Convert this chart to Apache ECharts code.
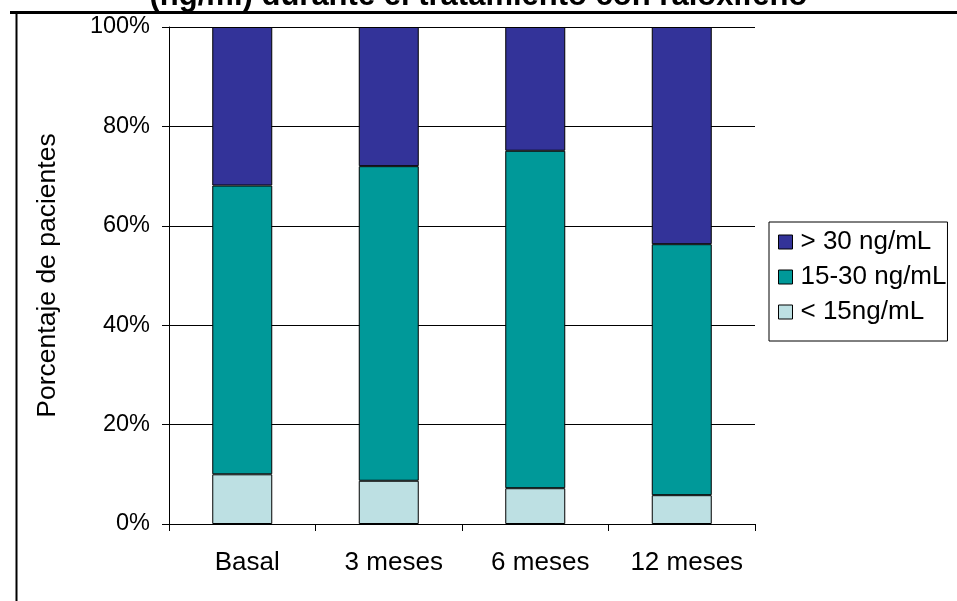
<!DOCTYPE html>
<html>
<head>
<meta charset="utf-8">
<script src="https://cdn.jsdelivr.net/npm/echarts@6/dist/echarts.min.js"></script>
<style>
html,body{margin:0;padding:0;background:#fff;}
#chart{width:957px;height:601px;}
</style>
</head>
<body>
<div id="chart"></div>
<script>
var categories = ['Basal', '3 meses', '6 meses', '12 meses'];
var seriesNames = ['< 15ng/mL', '15-30 ng/mL', '> 30 ng/mL'];
var lowValues = [10, 8.7, 7.2, 5.8];
var midValues = [58.1, 63.3, 67.9, 50.5];
var highValues = [31.9, 28.0, 24.9, 43.7];
var yTicks = [0, 20, 40, 60, 80, 100];
var titleText = '(ng/ml) durante el tratamiento con raloxifeno';
var yAxisName = 'Porcentaje de pacientes';

var FONT = '"Liberation Sans", Arial, sans-serif';
var colors = ['#BDE0E3', '#009999', '#333399'];

var chart = echarts.init(document.getElementById('chart'), null, {renderer: 'canvas'});

function bar(name, data, color) {
  return {
    name: name,
    type: 'bar',
    stack: 'total',
    data: data,
    barWidth: 60,
    itemStyle: {color: color, borderColor: '#000', borderWidth: 1},
    emphasis: {disabled: true}
  };
}

chart.setOption({
  animation: false,
  backgroundColor: '#fff',
  textStyle: {fontFamily: FONT},
  grid: {left: 169, right: 202, top: 27, bottom: 77, containLabel: false},
  xAxis: {
    type: 'category',
    data: categories,
    boundaryGap: true,
    axisLine: {show: true, lineStyle: {color: '#000', width: 1}},
    axisTick: {show: true, length: 7, interval: 0, lineStyle: {color: '#000'}},
    axisLabel: {fontSize: 26, color: '#000', fontFamily: FONT, margin: 26, interval: 0,
                hideOverlap: false, padding: [0, 0, 0, 10]}
  },
  yAxis: {
    type: 'value',
    min: yTicks[0],
    max: yTicks[yTicks.length - 1],
    interval: 20,
    name: yAxisName,
    nameLocation: 'middle',
    nameGap: 108,
    nameRotate: 90,
    nameTextStyle: {fontSize: 26.5, color: '#000', fontFamily: FONT},
    axisLine: {show: true, lineStyle: {color: '#000', width: 1}},
    axisTick: {show: true, length: 7, lineStyle: {color: '#000'}},
    axisLabel: {fontSize: 23.5, color: '#000', fontFamily: FONT, margin: 19, padding: [4, 0, 0, 0],
                formatter: '{value}%'},
    splitLine: {show: true, lineStyle: {color: '#000', width: 1}}
  },
  legend: {
    orient: 'vertical',
    left: 769,
    top: 222,
    data: [seriesNames[2], seriesNames[1], seriesNames[0]],
    icon: 'rect',
    itemWidth: 14,
    itemHeight: 14,
    itemGap: 9,
    itemStyle: {borderColor: '#000', borderWidth: 1},
    textStyle: {fontSize: 26, lineHeight: 26, color: '#000', fontFamily: FONT, padding: [0, 0, 0, 3]},
    padding: [7, 1, 16, 9],
    borderColor: '#000',
    borderWidth: 1,
    selectedMode: false
  },
  graphic: [
    {type: 'text', left: 'center', top: -19, z: 10,
     style: {text: titleText, font: 'bold 31px ' + FONT, fill: '#000'}},
    {type: 'line', z: 10, shape: {x1: 10, y1: 12.5, x2: 957, y2: 12.5}, style: {stroke: '#000', lineWidth: 3}},
    {type: 'line', z: 10, shape: {x1: 16.5, y1: 12, x2: 16.5, y2: 601}, style: {stroke: '#000', lineWidth: 2}}
  ],
  series: [
    bar(seriesNames[0], lowValues, colors[0]),
    bar(seriesNames[1], midValues, colors[1]),
    bar(seriesNames[2], highValues, colors[2])
  ]
});
</script>
</body>
</html>
